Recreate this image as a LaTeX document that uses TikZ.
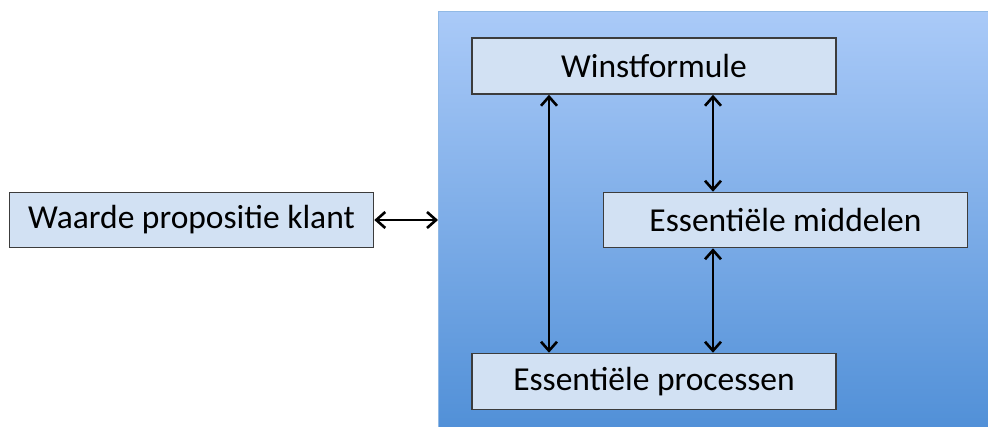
\documentclass[tikz,border=0pt]{standalone}
\usepackage{fontspec}
\setmainfont{Carlito}
\usetikzlibrary{arrows.meta}

\definecolor{boxfill}{RGB}{210,225,243}
\definecolor{boxline}{RGB}{60,60,60}
\definecolor{bluetop}{RGB}{170,202,248}
\definecolor{bluebottom}{RGB}{72,138,212}

\tikzset{
  blok/.style={draw=boxline, line width=1.6pt, fill=boxfill,
    minimum width=364pt, minimum height=55pt, inner sep=0pt,
    font=\fontsize{33.5}{40}\selectfont},
  pijl/.style={line width=2.6pt, {Straight Barb[length=9pt,width=16pt]}-{Straight Barb[length=9pt,width=16pt]}}
}

\begin{document}
\begin{tikzpicture}[x=1pt,y=1pt]
\useasboundingbox (0,0) rectangle (988,426);

% het bedrijfsmodel
\node[anchor=north west, minimum width=600pt, minimum height=460pt, inner sep=0pt,
  top color=bluetop, bottom color=bluebottom, draw=bluebottom!60, line width=0.6pt]
  (model) at (438,415) {};

\node[blok] (waarde) at (191.5,206) {Waarde propositie klant};
\node[blok, minimum height=56pt] (winst) at (654,360) {Winstformule};
\node[blok] (middelen) at (785.5,206) {Essentiële middelen};
\node[blok, minimum height=56pt] (processen) at (654,44.5) {Essentiële processen};

\draw[pijl] (waarde.east) -- (waarde.east -| model.west);
\draw[pijl] (winst.south -| 549,0) -- (processen.north -| 549,0);
\draw[pijl] (winst.south -| 713,0) -- (middelen.north -| 713,0);
\draw[pijl] (middelen.south -| 713,0) -- (processen.north -| 713,0);
\end{tikzpicture}
\end{document}
